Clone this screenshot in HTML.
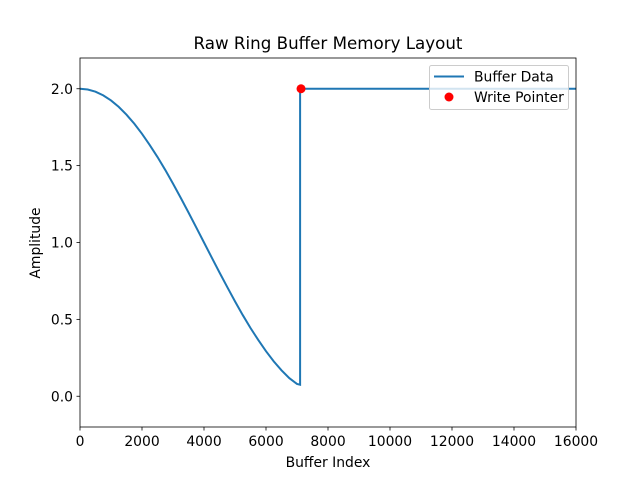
<!DOCTYPE html>
<html><head><meta charset="utf-8"><style>
body{margin:0;background:#fff;}
svg text{font-family:"DejaVu Sans","Liberation Sans",sans-serif;fill:#000;}
</style></head><body>
<svg id="chart" width="640" height="480" xmlns="http://www.w3.org/2000/svg"></svg>
<script>
const bufferIndex=[0,250,500,750,1000,1250,1500,1750,2000,2250,2500,2750,3000,3250,3500,3750,4000,4250,4500,4750,5000,5250,5500,5750,6000,6250,6500,6750,7000,7100,7100,16000];
const bufferValue=[2,1.995,1.981,1.957,1.924,1.882,1.831,1.773,1.707,1.634,1.556,1.472,1.383,1.290,1.195,1.098,1.0,0.902,0.805,0.710,0.617,0.528,0.444,0.366,0.293,0.227,0.169,0.118,0.080,0.075,2.0,2.0];
const pointerIndex=[7130];
const pointerValue=[2.0];
const xTicks=[0,2000,4000,6000,8000,10000,12000,14000,16000];
const yTicks=[0.0,0.5,1.0,1.5,2.0];
const X0=80,X1=576,Y0=58,Y1=427,xmin=0,xmax=16000,ymin=-0.2,ymax=2.2;
const sx=v=>X0+(v-xmin)/(xmax-xmin)*(X1-X0);
const sy=v=>Y1-(v-ymin)/(ymax-ymin)*(Y1-Y0);
const svg=document.getElementById('chart');
const NS='http://www.w3.org/2000/svg';
function mk(t,a,txt){const e=document.createElementNS(NS,t);for(const k in a)e.setAttribute(k,a[k]);if(txt!==undefined)e.textContent=txt;svg.appendChild(e);return e;}
let e;
e=mk('rect',{x:X0,y:Y0,width:X1-X0,height:Y1-Y0,fill:'#fff'});


const d=bufferIndex.map((v,i)=>(i?'L':'M')+sx(v).toFixed(2)+','+sy(bufferValue[i]).toFixed(2)).join('');
e=mk('path',{d:d,fill:'none',stroke:'#1f77b4','stroke-width':2});


pointerIndex.forEach((v,i)=>{
 const c=mk('circle',{cx:sx(v),cy:sy(pointerValue[i]),r:4.5,fill:'#ff0000'});
 
 
});
e=mk('rect',{x:X0,y:Y0,width:X1-X0,height:Y1-Y0,fill:'none',stroke:'#000','stroke-width':0.8});


xTicks.forEach(v=>{
 const l=mk('line',{x1:sx(v),x2:sx(v),y1:Y1,y2:Y1+3.5,stroke:'#000','stroke-width':0.8});
 
 
 const t=mk('text',{x:sx(v),y:Y1+19,'font-size':13.9,'text-anchor':'middle'},String(v));
 
 
});
yTicks.forEach(v=>{
 const l=mk('line',{x1:X0-3.5,x2:X0,y1:sy(v),y2:sy(v),stroke:'#000','stroke-width':0.8});
 
 
 const t=mk('text',{x:X0-7,y:sy(v)+5,'font-size':13.9,'text-anchor':'end'},v.toFixed(1));
 
 
});
e=mk('text',{x:328,y:49,'font-size':16.7,'text-anchor':'middle'},'Raw Ring Buffer Memory Layout');


e=mk('text',{x:328,y:467,'font-size':13.9,'text-anchor':'middle'},'Buffer Index');


e=mk('text',{x:40,y:243,'font-size':13.9,'text-anchor':'middle',transform:'rotate(-90 40 243)'},'Amplitude');


e=mk('rect',{x:429.5,y:65.5,width:139,height:44,rx:2,fill:'#fff','fill-opacity':0.8,stroke:'#ccc','stroke-width':1});


e=mk('line',{x1:434,x2:464,y1:76.5,y2:76.5,stroke:'#1f77b4','stroke-width':2});


e=mk('text',{x:474,y:81.5,'font-size':13.9},'Buffer Data');


e=mk('circle',{cx:449,cy:97,r:4.5,fill:'#ff0000'});


e=mk('text',{x:474,y:102,'font-size':13.9},'Write Pointer');


</script>
</body></html>
